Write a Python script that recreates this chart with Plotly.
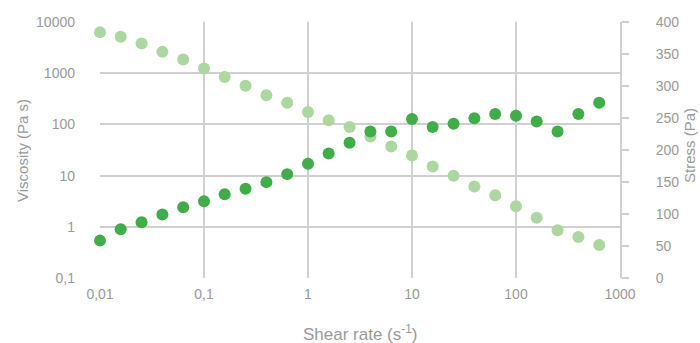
import plotly.graph_objects as go

shear_rate = [0.01, 0.0158, 0.0251, 0.0398, 0.0631, 0.1, 0.158, 0.251, 0.398, 0.631,
              1, 1.58, 2.51, 3.98, 6.31, 10, 15.8, 25.1, 39.8, 63.1,
              100, 158, 251, 398, 631]
viscosity = [6300, 5130, 3800, 2610, 1845, 1230, 845, 571, 370, 266,
             175, 120, 89, 58, 37, 24.7, 15, 9.9, 6.1, 4.15,
             2.53, 1.51, 0.86, 0.63, 0.44]
stress = [58.4, 76.2, 87.2, 99.2, 110.6, 120, 131, 139.3, 149.8, 162.3,
          178.5, 194.6, 211.4, 229, 229, 248.4, 235.9, 241, 249.5, 256.2,
          253.6, 244.7, 229, 256.2, 274]

x_tickvals = [0.01, 0.1, 1, 10, 100, 1000]
x_ticktext = ["0,01", "0,1", "1", "10", "100", "1000"]
y_tickvals = [0.1, 1, 10, 100, 1000, 10000]
y_ticktext = ["0,1", "1", "10", "100", "1000", "10000"]
y2_tickvals = [0, 50, 100, 150, 200, 250, 300, 350, 400]

LIGHT = "#acd7a0"
DARK = "#40ad48"
GRID = "#d0d0d0"
TXT = "#9a9a9a"
FONT = "Liberation Sans, Arial, sans-serif"

fig = go.Figure()
fig.add_trace(go.Scatter(x=shear_rate, y=viscosity, mode="markers", name="Viscosity",
                         marker=dict(size=12, color=LIGHT), cliponaxis=False))
fig.add_trace(go.Scatter(x=shear_rate, y=stress, mode="markers", name="Stress", yaxis="y2",
                         marker=dict(size=12, color=DARK), cliponaxis=False))

fig.update_layout(
    width=700, height=343,
    margin=dict(l=100, r=80, t=22, b=65),
    paper_bgcolor="white", plot_bgcolor="white",
    showlegend=False,
    font=dict(family=FONT, color=TXT, size=14),
    xaxis=dict(type="log", range=[-2, 3], tickvals=x_tickvals, ticktext=x_ticktext,
               showgrid=True, gridcolor=GRID, gridwidth=2, zeroline=False,
               showline=False, ticks="", ticklabelstandoff=6,
               tickfont=dict(size=14, color=TXT)),
    yaxis=dict(type="log", range=[-1, 4], tickvals=y_tickvals, ticktext=y_ticktext,
               showgrid=True, gridcolor=GRID, gridwidth=2, zeroline=False,
               showline=False, ticks="", ticklabelstandoff=24,
               tickfont=dict(size=14, color=TXT)),
    yaxis2=dict(overlaying="y", side="right", range=[0, 400], tickvals=y2_tickvals,
                showgrid=False, zeroline=False, showline=True, linecolor=GRID, linewidth=2,
                ticks="outside", ticklen=7, tickwidth=2, tickcolor=GRID, ticklabelstandoff=24,
                tickfont=dict(size=14, color=TXT)),
    annotations=[
        dict(text="Shear rate (s<sup>-1</sup>)", xref="paper", yref="paper",
             x=0.5, y=(278 - 333) / 256, xanchor="center", yanchor="middle",
             showarrow=False, font=dict(size=17, color=TXT)),
        dict(text="Viscosity (Pa s)", xref="paper", yref="paper",
             x=(22 - 100) / 520, y=(278 - 151) / 256, xanchor="center", yanchor="middle",
             textangle=-90, showarrow=False, font=dict(size=15, color=TXT)),
        dict(text="Stress (Pa)", xref="paper", yref="paper",
             x=(689 - 100) / 520, y=(278 - 146) / 256, xanchor="center", yanchor="middle",
             textangle=-90, showarrow=False, font=dict(size=15, color=TXT)),
    ],
)

fig.write_html(
    "out.html",
    config={"displayModeBar": False},
    post_script=(
        "document.body.style.margin='0';"
        "document.body.style.overflow='hidden';"
        "document.documentElement.style.overflow='hidden';"
    ),
)
